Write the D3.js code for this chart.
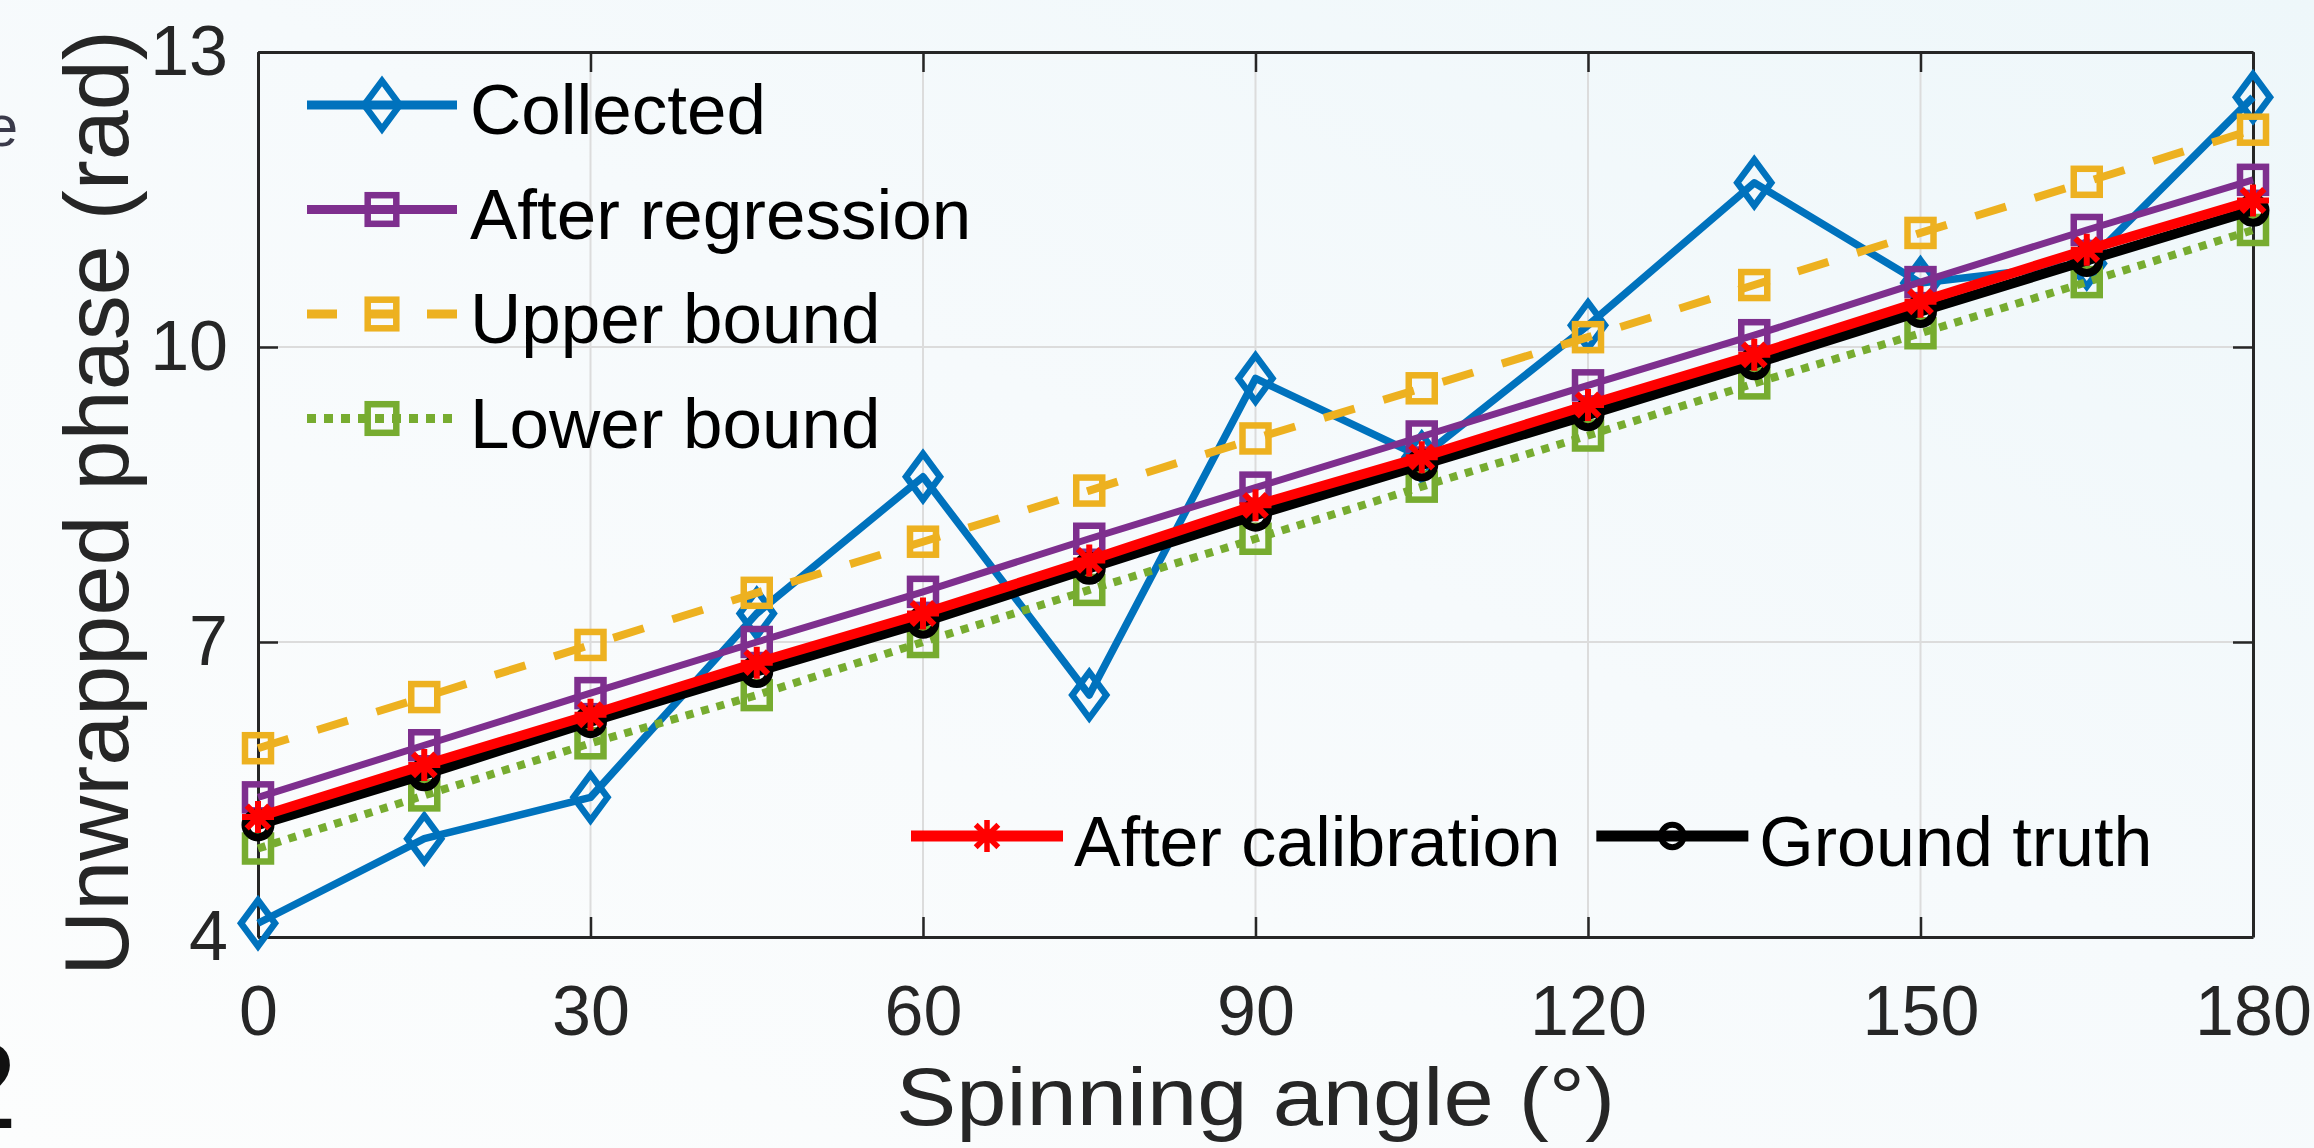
<!DOCTYPE html>
<html><head><meta charset="utf-8">
<script src="https://cdn.jsdelivr.net/npm/d3@7"></script>
<style>html,body{margin:0;padding:0;background:#f7fbfc;overflow:hidden}</style>
</head><body>
<svg id="chart" width="2314" height="1148"></svg>
<script>
// ---------- data ----------
const angles = [0, 15, 30, 45, 60, 75, 90, 105, 120, 135, 150, 165, 180];
const collected        = [4.14, 5.00, 5.42, 7.29, 8.68, 6.46, 9.68, 8.88, 10.22, 11.67, 10.65, 10.85, 12.54];
const afterRegression  = [5.42, 5.95, 6.48, 7.00, 7.51, 8.05, 8.57, 9.09, 9.61, 10.12, 10.66, 11.19, 11.70];
const upperBound       = [5.92, 6.44, 6.97, 7.50, 8.02, 8.54, 9.07, 9.58, 10.10, 10.63, 11.16, 11.68, 12.21];
const lowerBound       = [4.90, 5.44, 5.97, 6.46, 7.00, 7.53, 8.05, 8.58, 9.10, 9.63, 10.14, 10.66, 11.19];
const afterCalibration = [5.22, 5.75, 6.26, 6.79, 7.29, 7.83, 8.39, 8.88, 9.41, 9.92, 10.46, 10.99, 11.49];
const groundTruth      = [5.14, 5.65, 6.19, 6.70, 7.20, 7.75, 8.29, 8.80, 9.31, 9.83, 10.36, 10.88, 11.39];
const xTicks = [0, 30, 60, 90, 120, 150, 180];
const yTicks = [4, 7, 10, 13];
const seriesNames = ["Collected", "After regression", "Upper bound", "Lower bound", "After calibration", "Ground truth"];
const xLabel = "Spinning angle (°)";
const yLabel = "Unwrapped phase (rad)";

// ---------- styles ----------
const FONT = "'Liberation Sans', Arial, Helvetica, sans-serif";
const styles = {
  "Collected":         {color:"#0072BD", width:7.5, dash:null,    marker:"diamond",  msw:6.5},
  "After regression":  {color:"#7E2F8E", width:7,   dash:null,    marker:"square",   msw:6.5},
  "Upper bound":       {color:"#EDB120", width:8,   dash:"32,30", marker:"square",   msw:6.5},
  "Lower bound":       {color:"#77AC30", width:8,   dash:"8,8",   marker:"square",   msw:6.5},
  "After calibration": {color:"#FF0000", width:10,  dash:null,    marker:"asterisk", msw:6},
  "Ground truth":      {color:"#000000", width:10,  dash:null,    marker:"circle",   msw:8}
};
const seriesData = {
  "Collected": collected, "After regression": afterRegression, "Upper bound": upperBound,
  "Lower bound": lowerBound, "After calibration": afterCalibration, "Ground truth": groundTruth
};
const drawOrder = ["Collected", "After regression", "Upper bound", "Lower bound", "Ground truth", "After calibration"];

const svg = d3.select("#chart");
const defs = svg.append("defs");
const grad = defs.append("linearGradient").attr("id","bg").attr("x1","0").attr("y1","1").attr("x2","1").attr("y2","0");
grad.append("stop").attr("offset","0").attr("stop-color","#fcfdfd");
grad.append("stop").attr("offset","0.55").attr("stop-color","#f6fafc");
grad.append("stop").attr("offset","1").attr("stop-color","#eef7fa");
svg.append("rect").attr("width",2314).attr("height",1148).attr("fill","url(#bg)");

const x = d3.scaleLinear().domain([0, 180]).range([258, 2253]);
const y = d3.scaleLinear().domain([4, 13]).range([937, 52]);

// grid
const grid = svg.append("g");
grid.selectAll(".gx").data(xTicks).join("line")
  .attr("x1", d=>x(d)).attr("x2", d=>x(d)).attr("y1", y(4)).attr("y2", y(13))
  .attr("stroke","#dcdcdc").attr("stroke-width",2);
grid.selectAll(".gy").data(yTicks).join("line")
  .attr("y1", d=>y(d)).attr("y2", d=>y(d)).attr("x1", x(0)).attr("x2", x(180))
  .attr("stroke","#dcdcdc").attr("stroke-width",2);

// axes
function styleAxis(g){
  g.selectAll("path.domain").attr("stroke","#262626").attr("stroke-width",3);
  g.selectAll(".tick line").attr("stroke","#262626").attr("stroke-width",2.5);
  g.selectAll(".tick text").attr("fill","#262626").style("font-family",FONT).style("font-size","70px");
}
svg.append("g").attr("transform",`translate(0,${y(4)})`)
  .call(d3.axisBottom(x).tickValues(xTicks).tickSize(-20).tickSizeOuter(0).tickPadding(48))
  .call(styleAxis);
svg.append("g").attr("transform",`translate(0,${y(13)})`)
  .call(d3.axisTop(x).tickValues(xTicks).tickSize(-20).tickSizeOuter(0).tickFormat(""))
  .call(styleAxis);
svg.append("g").attr("transform",`translate(${x(0)},0)`)
  .call(d3.axisLeft(y).tickValues(yTicks).tickSize(-20).tickSizeOuter(0).tickPadding(30))
  .call(styleAxis);
svg.append("g").attr("transform",`translate(${x(180)},0)`)
  .call(d3.axisRight(y).tickValues(yTicks).tickSize(-20).tickSizeOuter(0).tickFormat(""))
  .call(styleAxis);
svg.selectAll(".domain").attr("fill","none");

// axis labels
svg.append("text").text(xLabel)
  .attr("x",(x(0)+x(180))/2).attr("y",1125).attr("text-anchor","middle")
  .attr("textLength",719).attr("lengthAdjust","spacingAndGlyphs")
  .style("font-family",FONT).style("font-size","82px").attr("fill","#262626");
svg.append("text").text(yLabel)
  .attr("transform",`translate(128,503) rotate(-90)`).attr("text-anchor","middle")
  .style("font-family",FONT).style("font-size","90px").attr("fill","#262626");

// marker drawing
function drawMarker(g, type, cx, cy, color, sw, scale){
  scale = scale || 1;
  if(type==="diamond"){
    const hw=17*scale, hh=23*scale;
    g.append("path").attr("d",`M${cx},${cy-hh}L${cx+hw},${cy}L${cx},${cy+hh}L${cx-hw},${cy}Z`)
      .attr("fill","none").attr("stroke",color).attr("stroke-width",sw).attr("stroke-linejoin","miter");
  } else if(type==="square"){
    const s=13*scale;
    g.append("rect").attr("x",cx-s).attr("y",cy-s).attr("width",2*s).attr("height",2*s)
      .attr("fill","none").attr("stroke",color).attr("stroke-width",sw);
  } else if(type==="circle"){
    g.append("circle").attr("cx",cx).attr("cy",cy).attr("r",12.5*scale)
      .attr("fill","none").attr("stroke",color).attr("stroke-width",sw);
  } else if(type==="asterisk"){
    const r=16*scale, d=r*0.7071;
    const p=`M${cx-r},${cy}L${cx+r},${cy}M${cx},${cy-r}L${cx},${cy+r}M${cx-d},${cy-d}L${cx+d},${cy+d}M${cx-d},${cy+d}L${cx+d},${cy-d}`;
    g.append("path").attr("d",p).attr("stroke",color).attr("stroke-width",sw).attr("fill","none");
  }
}

// series
const line = d3.line().x((d,i)=>x(angles[i])).y(d=>y(d));
const plot = svg.append("g");
drawOrder.forEach(name=>{
  const st = styles[name], vals = seriesData[name];
  const g = plot.append("g");
  g.append("path").datum(vals).attr("d",line)
    .attr("fill","none").attr("stroke",st.color).attr("stroke-width",st.width)
    .attr("stroke-dasharray",st.dash).attr("stroke-linejoin","round");
  vals.forEach((v,i)=>drawMarker(g, st.marker, x(angles[i]), y(v), st.color, st.msw));
});

// legend 1 (vertical, top-left)
const leg1 = svg.append("g");
const leg1Names = seriesNames.slice(0,4);
leg1Names.forEach((name,i)=>{
  const st = styles[name];
  const ly = 105 + i*104.5;
  leg1.append("line").attr("x1",307).attr("x2",457).attr("y1",ly).attr("y2",ly)
    .attr("stroke",st.color).attr("stroke-width",9)
    .attr("stroke-dasharray", name==="Upper bound" ? "30,30" : (name==="Lower bound" ? "9,8" : st.dash));
  drawMarker(leg1, st.marker, 382, ly, st.color, 6.5, name==="Collected"?1.05:1.1);
  leg1.append("text").text(name).attr("x",470).attr("y",ly+29)
    .style("font-family",FONT).style("font-size","71px").attr("fill","#000");
});

// legend 2 (horizontal, bottom-right)
const leg2 = svg.append("g");
let lx = 911;
const ly2 = 836;
seriesNames.slice(4).forEach(name=>{
  const st = styles[name];
  leg2.append("line").attr("x1",lx).attr("x2",lx+152).attr("y1",ly2).attr("y2",ly2)
    .attr("stroke",st.color).attr("stroke-width",11);
  drawMarker(leg2, st.marker, lx+76, ly2, st.color, name==="Ground truth"?6:5.5, name==="Ground truth"?0.9:1.0);
  const t = leg2.append("text").text(name).attr("x",lx+163).attr("y",ly2+30)
    .style("font-family",FONT).style("font-size","70px").attr("fill","#000");
  lx = lx + 163 + t.node().getComputedTextLength() + 36;
});

// cropped fragments at left edge of the source image
svg.append("text").text("2").attr("x",-51).attr("y",1128)
  .style("font-family",FONT).style("font-size","123px").attr("fill","#111");
svg.append("text").text("e").attr("x",18).attr("y",146).attr("text-anchor","end")
  .style("font-family",FONT).style("font-size","58px").attr("fill","#3a3a4a");
</script>
</body></html>
